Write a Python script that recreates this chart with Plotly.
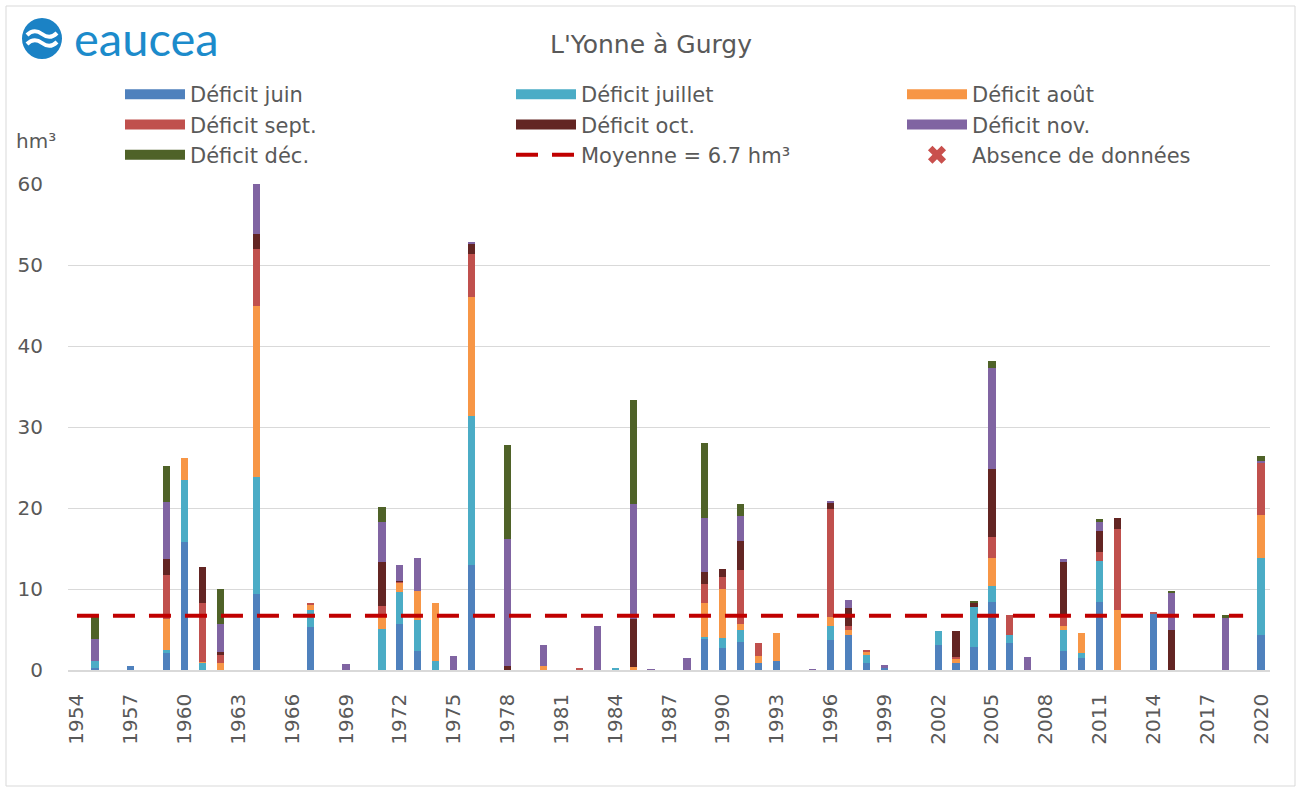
import plotly.graph_objects as go

# ---------------- data ----------------
years = list(range(1954, 2021))

deficit_juin = [
    0, 0.2, 0, 0.55, 0, 2.1, 15.84, 0, 0, 0,          # 1954-1963
    9.4, 0, 0, 5.36, 0, 0, 0, 0, 5.69, 2.35,          # 1964-1973
    0, 0, 13.0, 0, 0, 0, 0, 0, 0, 0,                  # 1974-1983
    0, 0, 0, 0, 0, 3.88, 2.76, 3.46, 0.87, 1.15,      # 1984-1993
    0, 0, 3.71, 4.33, 0.91, 0.2, 0, 0, 3.09, 0.82,    # 1994-2003
    2.88, 8.37, 3.3, 0, 0, 2.35, 1.48, 8.45, 0, 0,    # 2004-2013
    7.0, 0, 0, 0, 0, 0, 4.33,                         # 2014-2020
]
deficit_juillet = [
    0, 0.9, 0, 0, 0, 0.33, 7.67, 0.87, 0, 0,
    14.4, 0, 0, 2.1, 0, 0, 0, 5.07, 3.96, 3.84,
    1.11, 0, 18.38, 0, 0, 0, 0, 0, 0, 0,
    0.25, 0, 0, 0, 0, 0.16, 1.2, 1.44, 0, 0,
    0, 0, 1.77, 0, 0.9, 0, 0, 0, 1.78, 0,
    4.95, 2.02, 1.03, 0, 0, 2.6, 0.62, 4.99, 0, 0,
    0, 0, 0, 0, 0, 0, 9.53,
]
deficit_aout = [
    0, 0, 0, 0, 0, 3.84, 2.64, 0.16, 0.82, 0,
    21.15, 0, 0, 0.58, 0, 0, 0, 1.49, 1.11, 3.55,
    7.13, 0, 14.72, 0, 0, 0, 0.45, 0, 0, 0,
    0, 0.41, 0, 0, 0, 4.21, 6.06, 0.75, 0.9, 3.43,
    0, 0, 1.08, 0.57, 0.5, 0, 0, 0, 0, 0.54,
    0, 3.42, 0, 0, 0, 0.45, 2.52, 0, 7.46, 0,
    0, 0, 0, 0, 0, 0, 5.32,
]
deficit_sept = [
    0, 0, 0, 0, 0, 5.44, 0, 7.2, 1.0, 0,
    6.97, 0, 0, 0.16, 0, 0, 0, 1.36, 0.17, 0,
    0, 0, 5.32, 0, 0, 0, 0, 0, 0.15, 0,
    0, 0, 0, 0, 0, 2.35, 1.48, 6.68, 1.61, 0,
    0, 0, 13.32, 0.5, 0.08, 0, 0, 0, 0, 0.21,
    0, 2.6, 2.47, 0, 0, 1.16, 0, 1.12, 9.98, 0,
    0.14, 0, 0, 0, 0, 0, 6.35,
]
deficit_oct = [
    0, 0, 0, 0, 0, 2.0, 0, 4.45, 0.41, 0,
    1.9, 0, 0, 0, 0, 0, 0, 5.44, 0.12, 0,
    0, 0, 1.24, 0, 0.45, 0, 0, 0, 0, 0,
    0, 5.86, 0, 0, 0, 1.56, 0.91, 3.63, 0, 0,
    0, 0, 0.82, 2.27, 0, 0, 0, 0, 0, 3.25,
    0.5, 8.41, 0, 0, 0, 6.8, 0, 2.64, 1.32, 0,
    0, 4.9, 0, 0, 0, 0, 0,
]
deficit_nov = [
    0, 2.7, 0, 0, 0, 6.97, 0, 0, 3.42, 0,
    6.2, 0, 0, 0, 0, 0.74, 0, 4.87, 1.86, 4.08,
    0, 1.69, 0.2, 0, 15.75, 0, 2.68, 0, 0, 5.48,
    0, 14.18, 0.05, 0, 1.53, 6.6, 0, 3.01, 0, 0,
    0, 0.05, 0.12, 1.03, 0, 0.42, 0, 0, 0, 0,
    0, 12.42, 0, 1.57, 0, 0.37, 0, 1.07, 0, 0,
    0, 4.63, 0, 0, 6.4, 0, 0.33,
]
deficit_dec = [
    0, 3.0, 0, 0, 0, 4.5, 0, 0, 4.33, 0,
    0, 0, 0, 0, 0, 0, 0, 1.94, 0, 0,
    0, 0, 0, 0, 11.6, 0, 0, 0, 0, 0,
    0, 12.87, 0, 0, 0, 9.32, 0, 1.57, 0, 0,
    0, 0, 0, 0, 0, 0, 0, 0, 0, 0,
    0.17, 0.95, 0, 0, 0, 0, 0, 0.33, 0, 0,
    0, 0.24, 0, 0, 0.4, 0, 0.61,
]

series_names = ["Déficit juin", "Déficit juillet", "Déficit août", "Déficit sept.",
                "Déficit oct.", "Déficit nov.", "Déficit déc."]
series_values = [deficit_juin, deficit_juillet, deficit_aout, deficit_sept,
                 deficit_oct, deficit_nov, deficit_dec]
series_colors = ["#4F81BD", "#4BACC6", "#F79646", "#C0504D",
                 "#632523", "#8064A2", "#4F6228"]
series_legend = ["legend", "legend2", "legend3", "legend",
                 "legend2", "legend3", "legend"]

moyenne = 6.7
moyenne_years = years[:-1]          # 1954 .. 2019
moyenne_label = "Moyenne = 6.7 hm³"
absence_label = "Absence de données"

tick_years = years[::3]
tick_labels = [str(y) for y in tick_years]

title_text = "L'Yonne à Gurgy"
unit_text = "hm³"

# ---------------- layout geometry ----------------
W, H = 1299, 787
L, R, T, B = 68, 29, 184, 117
PW, PH = W - L - R, H - T - B


def px(x):
    return (x - L) / PW


def py(y):
    return (H - B - y) / PH


TXT = "#595959"
FONT = "DejaVu Sans"

fig = go.Figure()

for name, vals, col, lg in zip(series_names, series_values, series_colors, series_legend):
    fig.add_trace(go.Bar(
        x=years, y=vals, name=name, marker=dict(color=col, line=dict(width=0)),
        width=0.4, showlegend=False, legendgroup=name, legend=lg,
    ))
    # legend swatch (wide rectangle like the original)
    fig.add_trace(go.Scatter(
        x=[None], y=[None], mode="lines", name=name,
        line=dict(color=col, width=15), legendgroup=name, legend=lg,
    ))

fig.add_trace(go.Scatter(
    x=moyenne_years, y=[moyenne] * len(moyenne_years), mode="lines",
    name=moyenne_label, line=dict(color="#C00000", width=4, dash="22px,14px"),
    legend="legend2", legendgroup="moy",
))
fig.add_trace(go.Scatter(
    x=[None], y=[None], mode="markers", name=absence_label,
    marker=dict(symbol="x", color="#C9504D", size=17, line=dict(width=0)),
    legend="legend3", legendgroup="abs",
))

leg_common = dict(
    xanchor="left", yanchor="top", y=py(74),
    font=dict(family=FONT, size=21, color=TXT),
    bgcolor="rgba(0,0,0,0)", tracegroupgap=0, itemwidth=60,
)

fig.update_layout(
    width=W, height=H,
    margin=dict(l=L, r=R, t=T, b=B),
    paper_bgcolor="white", plot_bgcolor="white",
    barmode="stack", bargap=0.6,
    font=dict(family=FONT, size=20, color=TXT),
    title=dict(text=title_text, x=651 / W, y=1 - 44 / H, xanchor="center", yanchor="middle",
               font=dict(family=FONT, size=25, color=TXT)),
    legend=dict(x=px(120), **leg_common),
    legend2=dict(x=px(511), **leg_common),
    legend3=dict(x=px(902), **leg_common),
    xaxis=dict(
        range=[years[0] - 0.5, years[-1] + 0.5], tickmode="array",
        tickvals=tick_years, ticktext=tick_labels, tickangle=-90,
        showgrid=False, showline=True, linecolor="#D9D9D9", linewidth=1.5,
        ticks="", ticklabelstandoff=14, tickfont=dict(family=FONT, size=20, color=TXT),
        zeroline=False,
    ),
    yaxis=dict(
        range=[0, 60], tickvals=[0, 10, 20, 30, 40, 50, 60],
        showgrid=True, gridcolor="#D9D9D9", gridwidth=1.3, zeroline=False,
        showline=False, ticks="", ticklabelstandoff=24,
        tickfont=dict(family=FONT, size=20, color=TXT),
    ),
    annotations=[
        dict(text=unit_text, xref="paper", yref="paper", x=px(14), y=py(141),
             xanchor="left", yanchor="middle", showarrow=False,
             font=dict(family=FONT, size=20, color=TXT)),
        dict(text="eaucea", xref="paper", yref="paper", x=px(72), y=py(38),
             xanchor="left", yanchor="middle", showarrow=False,
             font=dict(family="Lato", size=47, color="#1C8BCB")),
    ],
    shapes=[
        dict(type="rect", xref="paper", yref="paper", x0=px(6), x1=px(1295),
             y0=py(786), y1=py(6), line=dict(color="#D9D9D9", width=1), layer="below"),
        dict(type="circle", xref="paper", yref="paper", x0=px(22), x1=px(62),
             y0=py(59), y1=py(18), fillcolor="#1B82C5", line=dict(width=0)),
        dict(type="path", xref="paper", yref="paper",
             path=f"M {px(27)},{py(35)} Q {px(34)},{py(28)} {px(42)},{py(34)} T {px(57)},{py(33)}",
             line=dict(color="white", width=4)),
        dict(type="path", xref="paper", yref="paper",
             path=f"M {px(27)},{py(44)} Q {px(34)},{py(37)} {px(42)},{py(43)} T {px(57)},{py(42)}",
             line=dict(color="white", width=4)),
    ],
)

fig.write_html("out.html", config={"displayModeBar": False},
               post_script="document.body.style.margin='0';")
